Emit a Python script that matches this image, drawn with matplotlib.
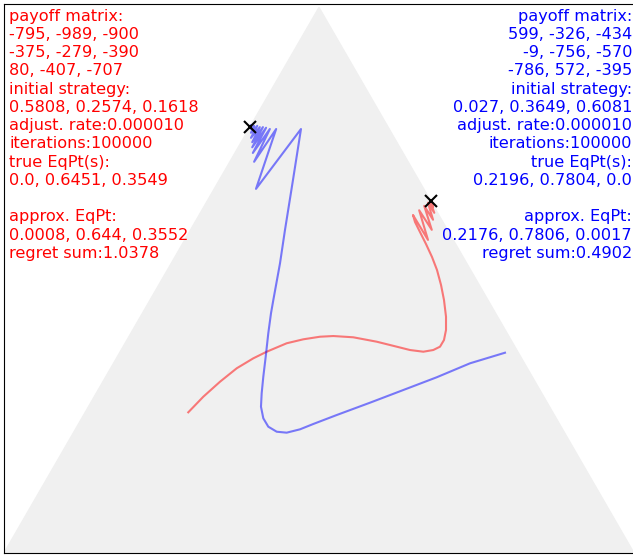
import numpy as np
import matplotlib
matplotlib.use('Agg')
import matplotlib.pyplot as plt

# player 1 (red) and player 2 (blue) setup
payoff_red = [[-795, -989, -900], [-375, -279, -390], [80, -407, -707]]
payoff_blue = [[599, -326, -434], [-9, -756, -570], [-786, 572, -395]]
init_red = [0.5808, 0.2574, 0.1618]
init_blue = [0.027, 0.3649, 0.6081]
rate = 0.00001
iterations = 100000
true_eq_red = [0.0, 0.6451, 0.3549]
true_eq_blue = [0.2196, 0.7804, 0.0]
approx_eq_red = [0.0008, 0.644, 0.3552]
approx_eq_blue = [0.2176, 0.7806, 0.0017]
regret_red = 1.0378
regret_blue = 0.4902

# trajectories in simplex-plane coordinates
red_x = [0.2925, 0.3164, 0.3429, 0.3694, 0.3957, 0.4170, 0.4487, 0.4751, 0.5016, 0.5227,
		 0.5544, 0.5916, 0.6233, 0.6444, 0.6656, 0.6814, 0.6921, 0.6984, 0.7016, 0.7016,
		 0.6984, 0.6937, 0.6873, 0.6794, 0.6698, 0.6603, 0.6524, 0.6492,
		 0.673, 0.659, 0.679, 0.667, 0.681, 0.673, 0.683, 0.676, 0.681, 0.679]
red_y = [0.2233, 0.2481, 0.2719, 0.2932, 0.3090, 0.3195, 0.3329, 0.3392, 0.3433, 0.3444,
		 0.3424, 0.3354, 0.3275, 0.3222, 0.3195, 0.3222, 0.3275, 0.3381, 0.3540, 0.3751,
		 0.4016, 0.4254, 0.4492, 0.4698, 0.4905, 0.5095, 0.5254, 0.5365,
		 0.497, 0.544, 0.513, 0.551, 0.529, 0.556, 0.540, 0.559, 0.549, 0.560]
blue_x = [0.7952, 0.7397, 0.6868, 0.6338, 0.5810, 0.5281, 0.4910, 0.4698, 0.4487, 0.4329,
		  0.4195, 0.4116, 0.4079, 0.4090, 0.4116, 0.4154, 0.4195, 0.4238, 0.4275, 0.4381,
		  0.4460, 0.4587, 0.4714,
		  0.400, 0.432, 0.397, 0.422, 0.395, 0.416, 0.394, 0.411, 0.394,
		  0.406, 0.392, 0.402, 0.392, 0.397, 0.392, 0.392]
blue_y = [0.3179, 0.3011, 0.2789, 0.2587, 0.2386, 0.2190, 0.2048, 0.1963, 0.1910, 0.1925,
		  0.2005, 0.2138, 0.2322, 0.2535, 0.2798, 0.3116, 0.3487, 0.3805, 0.4016, 0.4598,
		  0.5127, 0.5921, 0.6730,
		  0.578, 0.673, 0.621, 0.673, 0.635, 0.675, 0.644, 0.676, 0.652,
		  0.676, 0.659, 0.678, 0.667, 0.678, 0.673, 0.679]

H = np.sqrt(3) / 2

def project(p):
	# vertices: p[0] bottom-left, p[1] top, p[2] bottom-right
	return 0.5 * p[1] + p[2], H * p[1]

def info(payoff, init, eq, approx, regret):
	lines = ['payoff matrix:']
	for row in payoff:
		lines.append(', '.join(str(v) for v in row))
	lines.append('initial strategy:')
	lines.append(', '.join(str(v) for v in init))
	lines.append('adjust. rate:%f' % rate)
	lines.append('iterations:%d' % iterations)
	lines.append('true EqPt(s):')
	lines.append(', '.join(str(v) for v in eq))
	lines.append('')
	lines.append('approx. EqPt:')
	lines.append(', '.join(str(v) for v in approx))
	lines.append('regret sum:%s' % regret)
	return '\n'.join(lines)

fig = plt.figure(figsize=(6.33, 5.55), dpi=100)
ax = fig.add_axes([4 / 633, 2 / 555, 630 / 633, 549 / 555])
ax.set_xlim(0, 1)
ax.set_ylim(0, 549 / 630)
ax.set_xticks([])
ax.set_yticks([])

ax.fill([0, 1, 0.5], [0, 0, H], color='#f0f0f0', zorder=0)

ax.plot(red_x, red_y, c='red', linewidth=1.5, alpha=0.5)
ax.plot(blue_x, blue_y, c='blue', linewidth=1.5, alpha=0.5)

ex, ey = project(true_eq_red)
ax.plot(ex, ey, 'kx', markersize=8, markeredgewidth=1.5)
ex, ey = project(true_eq_blue)
ax.plot(ex, ey, 'kx', markersize=8, markeredgewidth=1.5)

ax.text(0.008, 0.864, info(payoff_red, init_red, true_eq_red, approx_eq_red, regret_red),
		color='red', fontsize=11.6, ha='left', va='top', linespacing=1.27)
ax.text(0.997, 0.864, info(payoff_blue, init_blue, true_eq_blue, approx_eq_blue, regret_blue),
		color='blue', fontsize=11.6, ha='right', va='top', multialignment='right', linespacing=1.27)

fig.savefig('out.png', dpi=100)
